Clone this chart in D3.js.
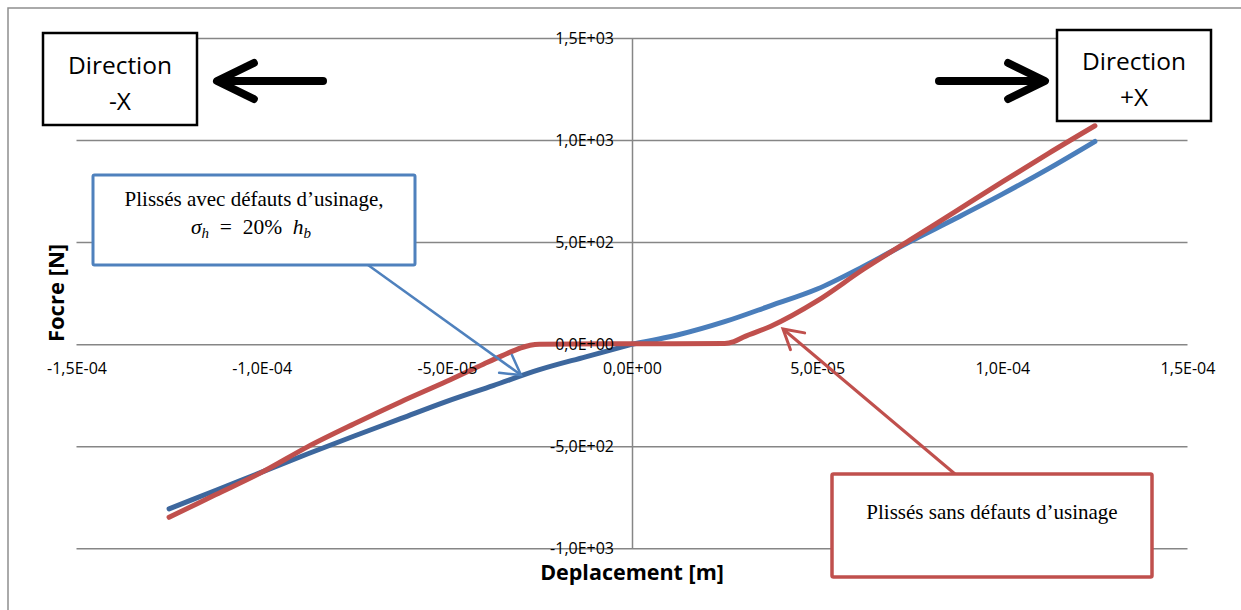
<!DOCTYPE html>
<html>
<head>
<meta charset="utf-8">
<script src="https://cdn.jsdelivr.net/npm/d3@7"></script>
<style>
  html, body { margin: 0; padding: 0; background: #fff; }
  svg { display: block; }
</style>
</head>
<body>
<svg id="chart" width="1241" height="610"></svg>
<script>
// ---------------- DATA ----------------
const xTickValues = [-1.5e-4, -1.0e-4, -5.0e-5, 0, 5.0e-5, 1.0e-4, 1.5e-4];
const xTickLabels = ["-1,5E-04", "-1,0E-04", "-5,0E-05", "0,0E+00", "5,0E-05", "1,0E-04", "1,5E-04"];
const yTickValues = [-1000, -500, 0, 500, 1000, 1500];
const yTickLabels = ["-1,0E+03", "-5,0E+02", "0,0E+00", "5,0E+02", "1,0E+03", "1,5E+03"];

// Plissés avec défauts d'usinage (blue), direction -X
const blueNegX = [-1.25e-4, -1.125e-4, -1.0e-4, -8.75e-5, -7.5e-5, -6.25e-5, -5.0e-5, -3.75e-5, -2.5e-5, -1.25e-5, 0];
const blueNegY = [-807, -717, -627, -537, -450, -365, -280, -203, -125, -62, 0];
// Plissés avec défauts d'usinage (blue), direction +X
const bluePosX = [0, 1.25e-5, 2.5e-5, 3.75e-5, 5.0e-5, 6.25e-5, 7.5e-5, 8.75e-5, 1.0e-4, 1.125e-4, 1.25e-4];
const bluePosY = [0, 46, 110, 189, 270, 381, 502, 617, 735, 860, 993];
// Plissés sans défauts d'usinage (red)
const redX = [-1.25e-4, -1.125e-4, -1.0e-4, -8.75e-5, -7.5e-5, -6.25e-5, -5.0e-5, -4.0e-5, -3.5e-5, -3.0e-5, -2.75e-5, -2.5e-5,
              0, 2.5e-5, 2.75e-5, 3.0e-5, 3.75e-5, 5.0e-5, 6.25e-5, 7.5e-5, 8.75e-5, 1.0e-4, 1.125e-4, 1.25e-4];
const redY = [-848, -738, -628, -502, -390, -283, -182, -97, -56, -18, -5, 0,
              2, 3, 12, 34, 88, 212, 367, 510, 652, 795, 935, 1070];

const xTitle = "Deplacement [m]";
const yTitle = "Focre [N]";

// ---------------- LAYOUT ----------------
const svg = d3.select("#chart");
const X0 = 76.5, X1 = 1187.5, Y0 = 548.3, Y1 = 38;
const x = d3.scaleLinear().domain([-1.5e-4, 1.5e-4]).range([X0, X1]);
const y = d3.scaleLinear().domain([-1000, 1500]).range([Y0, Y1]);

const gridColor = "#868686";
const tickFont = "'Open Sans', 'Noto Sans', sans-serif";

// outer frame
svg.append("path").attr("d", "M8,610 V8 H1241").attr("fill", "none")
  .attr("stroke", "#8f8f8f").attr("stroke-width", 1.5);

// horizontal gridlines
svg.append("g").attr("transform", `translate(${X0},0)`)
  .call(d3.axisLeft(y).tickValues(yTickValues).tickSize(-(X1 - X0)).tickFormat(""))
  .call(g => g.select(".domain").remove())
  .call(g => g.selectAll("line").attr("stroke", gridColor).attr("stroke-width", 1.5));

// vertical axis line at x = 0
svg.append("g").attr("transform", `translate(0,${Y0})`)
  .call(d3.axisBottom(x).tickValues([0]).tickSize(-(Y0 - Y1)).tickFormat(""))
  .call(g => g.select(".domain").remove())
  .call(g => g.selectAll("line").attr("stroke", gridColor).attr("stroke-width", 1.5));

// series
const line = d3.line().x(d => x(d[0])).y(d => y(d[1])).curve(d3.curveMonotoneX);
const zip = (a, b) => a.map((v, i) => [v, b[i]]);
const series = [
  { pts: zip(blueNegX, blueNegY), color: "#3D679D" },
  { pts: zip(bluePosX, bluePosY), color: "#4A7EBB" },
  { pts: zip(redX, redY), color: "#C0504D" }
];
svg.append("g").selectAll("path").data(series).join("path")
  .attr("d", d => line(d.pts)).attr("fill", "none")
  .attr("stroke", d => d.color).attr("stroke-width", 5)
  .attr("stroke-linecap", "round").attr("stroke-linejoin", "round");

// tick labels (axes without domain/ticks)
svg.append("g").attr("transform", `translate(${x(0)},0)`)
  .call(d3.axisLeft(y).tickValues(yTickValues).tickSize(0).tickPadding(18)
    .tickFormat((d, i) => yTickLabels[i]))
  .call(g => g.select(".domain").remove())
  .call(g => g.selectAll("text").attr("font-family", tickFont).attr("font-size", "16px").attr("fill", "#000"));

svg.append("g").attr("transform", `translate(0,${y(0)})`)
  .call(d3.axisBottom(x).tickValues(xTickValues).tickSize(0).tickPadding(18)
    .tickFormat((d, i) => xTickLabels[i]))
  .call(g => g.select(".domain").remove())
  .call(g => g.selectAll("text").attr("font-family", tickFont).attr("font-size", "16px").attr("fill", "#000"));

// axis titles
svg.append("text").attr("x", x(0)).attr("y", 580).attr("text-anchor", "middle")
  .attr("font-family", tickFont).attr("font-weight", "bold").attr("font-size", "21.5px").text(xTitle);
svg.append("text").attr("transform", "translate(64,293) rotate(-90)").attr("text-anchor", "middle")
  .attr("font-family", tickFont).attr("font-weight", "bold").attr("font-size", "22px").text(yTitle);

// ---------------- ANNOTATIONS ----------------
function arrowHead(tipX, tipY, fromX, fromY, len, angDeg) {
  const dx = fromX - tipX, dy = fromY - tipY, L = Math.hypot(dx, dy);
  const ux = dx / L, uy = dy / L, a = angDeg * Math.PI / 180;
  const r1 = [ux * Math.cos(a) - uy * Math.sin(a), ux * Math.sin(a) + uy * Math.cos(a)];
  const r2 = [ux * Math.cos(-a) - uy * Math.sin(-a), ux * Math.sin(-a) + uy * Math.cos(-a)];
  return `M${tipX + r1[0] * len},${tipY + r1[1] * len} L${tipX},${tipY} L${tipX + r2[0] * len},${tipY + r2[1] * len}`;
}

// Direction boxes
const dirFont = "'Open Sans', 'Noto Sans', sans-serif";
function dirBox(bx, by, bw, bh, l2, b1, b2) {
  svg.append("rect").attr("x", bx).attr("y", by).attr("width", bw).attr("height", bh)
    .attr("fill", "#fff").attr("stroke", "#000").attr("stroke-width", 2.5);
  const cx = bx + bw / 2;
  svg.append("text").attr("x", cx).attr("y", b1).attr("text-anchor", "middle")
    .attr("font-family", dirFont).attr("font-size", "24.5px").text("Direction");
  svg.append("text").attr("x", cx).attr("y", b2).attr("text-anchor", "middle")
    .attr("font-family", dirFont).attr("font-size", "24.5px").text(l2);
}
dirBox(43, 33, 154, 92, "-X", 74, 110);
dirBox(1057, 30, 154, 91, "+X", 70, 106);

// black arrows
const blackArrow = svg.append("g").attr("fill", "none").attr("stroke", "#000").attr("stroke-width", 8)
  .attr("stroke-linecap", "round").attr("stroke-linejoin", "round");
blackArrow.append("path").attr("d", "M323,81 H222");
blackArrow.append("path").attr("d", arrowHead(217, 81, 325, 81, 41, 26));
blackArrow.append("path").attr("d", "M939,81 H1040");
blackArrow.append("path").attr("d", arrowHead(1045, 81, 937, 81, 41, 26));

// Blue callout
const blueC = "#4F81BD";
svg.append("line").attr("x1", 368).attr("y1", 265).attr("x2", 521).attr("y2", 375)
  .attr("stroke", blueC).attr("stroke-width", 2.5);
svg.append("path").attr("d", arrowHead(521, 375, 368, 265, 22, 30)).attr("fill", "none")
  .attr("stroke", blueC).attr("stroke-width", 2.5).attr("stroke-linecap", "round");
svg.append("rect").attr("x", 93).attr("y", 175).attr("width", 322).attr("height", 90).attr("rx", 1.5)
  .attr("fill", "#fff").attr("stroke", blueC).attr("stroke-width", 3);
const serif = "'Liberation Serif', 'DejaVu Serif', serif";
svg.append("text").attr("x", 254).attr("y", 206).attr("text-anchor", "middle")
  .attr("font-family", serif).attr("font-size", "21px").text("Plissés avec défauts d’usinage,");
const m = svg.append("text").attr("x", 251).attr("y", 234).attr("text-anchor", "middle")
  .attr("font-family", serif).attr("font-size", "21.5px");
m.append("tspan").attr("font-style", "italic").text("σ");
m.append("tspan").attr("font-style", "italic").attr("font-size", "15px").attr("dy", 4).text("h");
m.append("tspan").attr("dy", -4).text("\u2002=\u200220%\u2002");
m.append("tspan").attr("font-style", "italic").text("h");
m.append("tspan").attr("font-style", "italic").attr("font-size", "15px").attr("dy", 4).text("b");

// Red callout
const redC = "#C0504D";
svg.append("line").attr("x1", 955).attr("y1", 474).attr("x2", 783).attr("y2", 329)
  .attr("stroke", redC).attr("stroke-width", 3);
svg.append("path").attr("d", arrowHead(783, 329, 955, 474, 22, 30)).attr("fill", "none")
  .attr("stroke", redC).attr("stroke-width", 3).attr("stroke-linecap", "round");
svg.append("rect").attr("x", 832).attr("y", 474).attr("width", 320).attr("height", 103).attr("rx", 1.5)
  .attr("fill", "#fff").attr("stroke", redC).attr("stroke-width", 3.5);
svg.append("text").attr("x", 992).attr("y", 519).attr("text-anchor", "middle")
  .attr("font-family", serif).attr("font-size", "21px").text("Plissés sans défauts d’usinage");
</script>
</body>
</html>
